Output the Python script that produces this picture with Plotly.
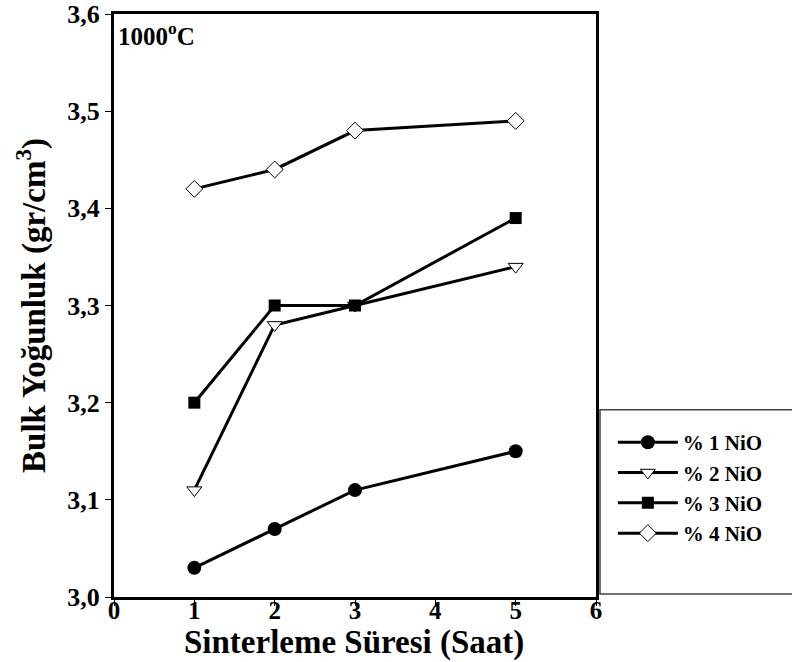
import plotly.graph_objects as go

# Sintering time (hours) and bulk density (g/cm3) for each NiO content
hours = [1, 2, 3, 5]
nio_1 = [3.03, 3.07, 3.11, 3.15]
nio_2 = [3.11, 3.28, 3.30, 3.34]
nio_3 = [3.20, 3.30, 3.30, 3.39]
nio_4 = [3.42, 3.44, 3.48, 3.49]

series_names = ["% 1 NiO", "% 2 NiO", "% 3 NiO", "% 4 NiO"]
series_values = [nio_1, nio_2, nio_3, nio_4]
marker_styles = [
    dict(symbol="circle", size=14, color="black"),
    dict(symbol="triangle-down", size=13, color="white", line=dict(color="black", width=1)),
    dict(symbol="square", size=12, color="black"),
    dict(symbol="diamond", size=13, color="white", line=dict(color="black", width=1)),
]

FONT = "Liberation Serif, Times New Roman, serif"

fig = go.Figure()
for name, vals, mk in zip(series_names, series_values, marker_styles):
    fig.add_trace(go.Scatter(
        x=hours, y=vals, name=name, mode="lines+markers",
        line=dict(color="black", width=3),
        marker=mk,
    ))

fig.update_layout(
    width=792, height=662,
    margin=dict(l=114, r=196, t=14, b=65, autoexpand=False),
    paper_bgcolor="white", plot_bgcolor="white",
    separators=",.",
    font=dict(family=FONT, color="black"),
    showlegend=True,
    legend=dict(
        x=1.035, y=0.30, xanchor="left", yanchor="top",
        bgcolor="rgba(0,0,0,0)", borderwidth=0,
        font=dict(family=FONT, size=21, weight="bold"),
        itemwidth=60,
    ),
    xaxis=dict(
        range=[0, 6], tickvals=[0, 1, 2, 3, 4, 5, 6],
        showline=True, linecolor="black", linewidth=3, mirror=True,
        ticks="outside", ticklen=6, tickwidth=1, tickcolor="black",
        showgrid=False, zeroline=False, automargin=False,
        ticklabelstandoff=-17,
        tickfont=dict(family=FONT, size=25, weight="bold"),
    ),
    yaxis=dict(
        range=[3.0, 3.6], dtick=0.1, tickformat=".1f",
        showline=True, linecolor="black", linewidth=3, mirror=True,
        ticks="outside", ticklen=6, tickwidth=1, tickcolor="black",
        showgrid=False, zeroline=False, automargin=False,
        tickfont=dict(family=FONT, size=26, weight="bold"),
        title=dict(text="Bulk Yoğunluk (gr/cm<sup>3</sup>)",
                   font=dict(family=FONT, size=33, weight="bold"), standoff=12),
    ),
)

# X-axis title, placed below the tick labels
fig.add_annotation(
    x=0.498, y=-0.078, xref="paper", yref="paper",
    xanchor="center", yanchor="middle", showarrow=False,
    text="Sinterleme Süresi (Saat)",
    font=dict(family=FONT, size=33, weight="bold"),
)

# Frame around the legend entries
fig.add_shape(
    type="rect", xref="paper", yref="paper",
    x0=1.0083, x1=1.5, y0=0.005, y1=0.321,
    line=dict(color="#444444", width=1.5), fillcolor="rgba(0,0,0,0)",
    layer="below",
)

fig.add_annotation(
    x=0, y=1, xref="paper", yref="paper", xanchor="left", yanchor="top",
    xshift=2, yshift=-2, showarrow=False,
    text="1000<sup>o</sup>C",
    font=dict(family=FONT, size=25, weight="bold"),
)

fig.write_html("out.html")
